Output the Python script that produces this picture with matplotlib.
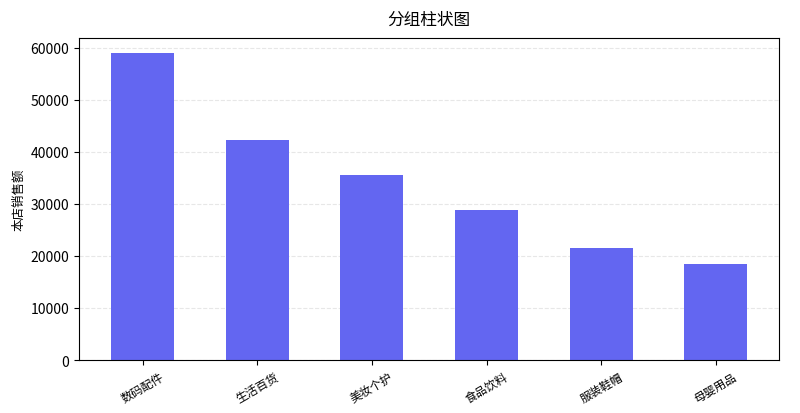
import matplotlib
matplotlib.use('Agg')
import matplotlib.pyplot as plt

plt.rcParams['font.family'] = ['Noto Sans CJK SC', 'DejaVu Sans']

categories = ['数码配件', '生活百货', '美妆个护', '食品饮料', '服装鞋帽', '母婴用品']
sales = [58900, 42300, 35600, 28850, 21550, 18450]

fig, ax = plt.subplots(figsize=(8, 4.14), dpi=100)
ax.bar(categories, sales, width=0.55, color='#6366F1')
ax.set_title('分组柱状图', fontsize=12, pad=10)
ax.set_ylabel('本店销售额', fontsize=9)
ax.grid(axis='y', linestyle='--', alpha=0.3)
ax.set_axisbelow(True)
plt.xticks(rotation=30, fontsize=8.5)
plt.yticks(fontsize=10)
fig.subplots_adjust(left=0.099, right=0.974, top=0.906, bottom=0.128)
fig.savefig('out.png', dpi=100)
